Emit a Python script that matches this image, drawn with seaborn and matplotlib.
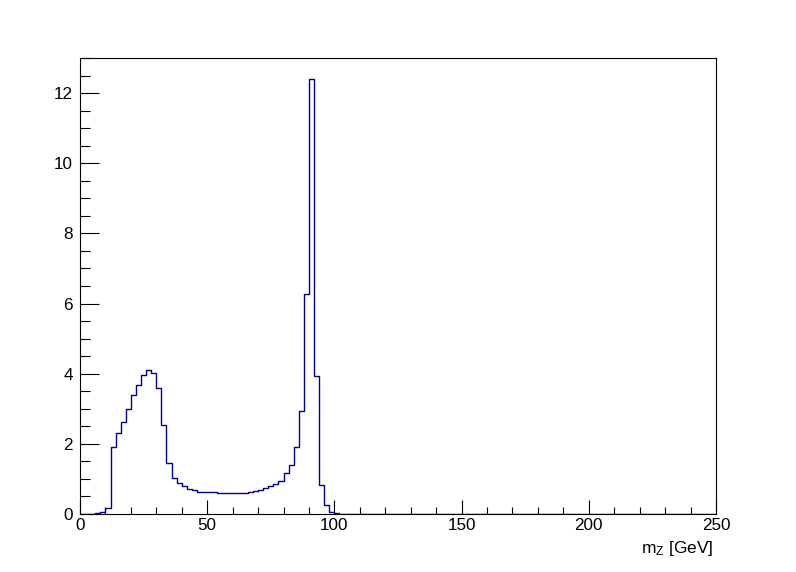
import numpy as np
import pandas as pd
import seaborn as sns
import matplotlib
matplotlib.use("Agg")
import matplotlib.pyplot as plt
from matplotlib.ticker import MultipleLocator

# m_Z histogram, 2 GeV bins, only the non-empty bins are listed (lower edge -> content)
bin_low = [6, 8, 10, 12, 14, 16, 18, 20, 22, 24, 26, 28, 30, 32, 34, 36, 38, 40,
           42, 44, 46, 48, 50, 52, 54, 56, 58, 60, 62, 64, 66, 68, 70, 72, 74,
           76, 78, 80, 82, 84, 86, 88, 90, 92, 94, 96, 98, 100]
counts = [0.02, 0.05, 0.16, 1.92, 2.32, 2.63, 3.00, 3.38, 3.69, 3.97, 4.11, 4.03,
          3.60, 2.55, 1.44, 1.02, 0.87, 0.80, 0.71, 0.67, 0.64, 0.62, 0.62, 0.62,
          0.59, 0.59, 0.59, 0.59, 0.61, 0.61, 0.62, 0.65, 0.69, 0.74, 0.79, 0.86,
          0.94, 1.17, 1.41, 1.90, 2.95, 6.28, 12.41, 3.92, 0.82, 0.25, 0.07, 0.02]
bin_width = 2
x_range = (0, 250)

df = pd.DataFrame({"mz": np.array(bin_low) + bin_width / 2, "w": counts})

sns.set_style("white")
plt.rcParams["font.family"] = ["Liberation Sans", "DejaVu Sans"]
plt.rcParams["mathtext.fontset"] = "custom"
plt.rcParams["mathtext.rm"] = "Liberation Sans"
plt.rcParams["mathtext.it"] = "Liberation Sans"
plt.rcParams["text.color"] = "black"
plt.rcParams["axes.labelcolor"] = "black"

fig = plt.figure(figsize=(7.96, 5.72), dpi=100)
ax = fig.add_axes([80 / 796, 1 - 514 / 572, 636 / 796, 456 / 572])

sns.histplot(data=df, x="mz", weights="w", binwidth=bin_width, binrange=x_range,
             element="step", fill=False, color="#000099", linewidth=1.0, ax=ax)

ax.set_xlim(*x_range)
ax.set_ylim(0, 13)
ax.set_ylabel("")
ax.set_xlabel("m$_{\\mathrm{Z}}$ [GeV]", loc="right", fontsize=12.5, color="black")
ax.xaxis.set_label_coords(0.996, -0.055)

ax.xaxis.set_major_locator(MultipleLocator(50))
ax.xaxis.set_minor_locator(MultipleLocator(10))
ax.yaxis.set_major_locator(MultipleLocator(2))
ax.yaxis.set_minor_locator(MultipleLocator(0.5))
ax.tick_params(axis="both", which="both", direction="in", width=0.8,
               color="black", labelcolor="black",
               bottom=True, left=True, top=False, right=False)
ax.tick_params(axis="x", which="major", length=9.9, labelsize=12.3, pad=3)
ax.tick_params(axis="x", which="minor", length=4.9)
ax.tick_params(axis="y", which="major", length=13.7, labelsize=12.3, pad=5)
ax.tick_params(axis="y", which="minor", length=6.9)
for s in ax.spines.values():
    s.set_linewidth(0.8)
    s.set_color("black")

fig.savefig("out.png", dpi=100, facecolor="white")
